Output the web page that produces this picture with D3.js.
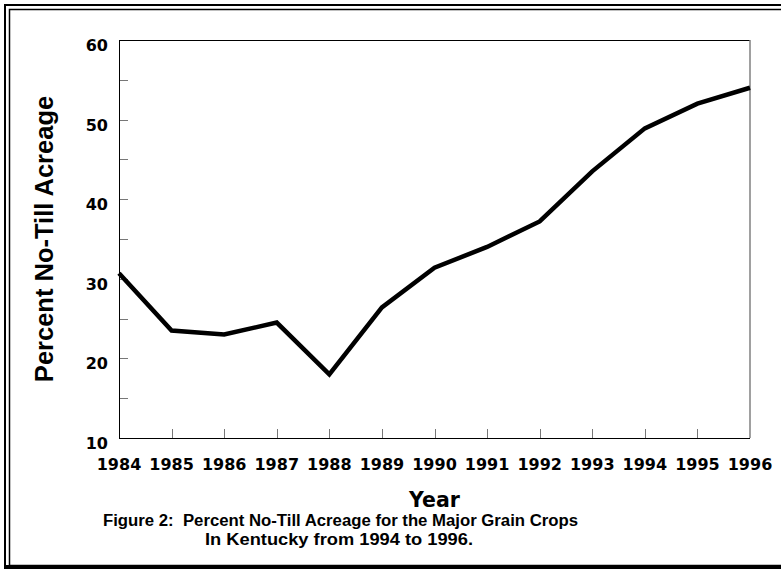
<!DOCTYPE html>
<html>
<head>
<meta charset="utf-8">
<script src="https://cdn.jsdelivr.net/npm/d3@7"></script>
<style>
  body { margin: 0; background: #fff; }
  svg { display: block; }
</style>
</head>
<body>
<div id="chart"></div>
<script>
// data
var years = [1984, 1985, 1986, 1987, 1988, 1989, 1990, 1991, 1992, 1993, 1994, 1995, 1996];
var percentNoTill = [30.7, 23.5, 23.0, 24.5, 18.0, 26.4, 31.4, 34.0, 37.2, 43.5, 48.9, 52.0, 54.0];
var yTicks = [10, 20, 30, 40, 50, 60];
var yMinorTicks = [15, 20, 25, 30, 35, 40, 45, 50, 55];
var captionLines = ["Figure 2:  Percent No-Till Acreage for the Major Grain Crops",
                    "In Kentucky from 1994 to 1996."];

var W = 781, H = 570;
var margin = { top: 40, right: 31, bottom: 132, left: 119 },
    width = W - margin.left - margin.right,
    height = H - margin.top - margin.bottom;

var svg = d3.select("#chart")
  .append("svg")
  .attr("width", W)
  .attr("height", H);

// double frame round the figure
svg.append("rect")
  .attr("x", 5).attr("y", 5)
  .attr("width", W + 20).attr("height", 562)
  .attr("fill", "none").attr("stroke", "#000").attr("stroke-width", 2);
svg.append("rect")
  .attr("x", 9.5).attr("y", 9.5)
  .attr("width", W + 20).attr("height", 556)
  .attr("fill", "none").attr("stroke", "#000").attr("stroke-width", 1.5);
svg.append("line")
  .attr("x1", 4).attr("x2", W).attr("y1", 567).attr("y2", 567)
  .attr("stroke", "#000").attr("stroke-width", 4);

var g = svg.append("g")
  .attr("transform", "translate(" + margin.left + "," + margin.top + ")");

var x = d3.scaleLinear()
  .domain([1984, 1996])
  .range([0, width]);

var y = d3.scaleLinear()
  .domain([10, 60])
  .range([height, 0]);

// frame of the plot area
g.append("line").attr("x1", 0).attr("x2", width).attr("y1", 0.5).attr("y2", 0.5)
  .attr("stroke", "#000").attr("stroke-width", 1);
g.append("line").attr("x1", width).attr("x2", width).attr("y1", 0).attr("y2", height)
  .attr("stroke", "#808080").attr("stroke-width", 1.5);

// inward ticks
g.selectAll(".ytick")
  .data(yMinorTicks)
  .enter().append("line")
  .attr("class", "ytick")
  .attr("x1", 0).attr("x2", 9)
  .attr("y1", function(d) { return Math.round(y(d)) + 0.5; })
  .attr("y2", function(d) { return Math.round(y(d)) + 0.5; })
  .attr("stroke", "#777").attr("stroke-width", 1);

g.selectAll(".xtick")
  .data(years.slice(1, -1))
  .enter().append("line")
  .attr("class", "xtick")
  .attr("x1", function(d) { return Math.round(x(d)) + 0.5; })
  .attr("x2", function(d) { return Math.round(x(d)) + 0.5; })
  .attr("y1", height).attr("y2", height - 9)
  .attr("stroke", "#777").attr("stroke-width", 1);

g.append("line").attr("x1", 0.5).attr("x2", 0.5).attr("y1", 0).attr("y2", height)
  .attr("stroke", "#000").attr("stroke-width", 1);
g.append("line").attr("x1", 0).attr("x2", width).attr("y1", height + 0.5).attr("y2", height + 0.5)
  .attr("stroke", "#000").attr("stroke-width", 1);

// tick labels
g.selectAll(".ylab")
  .data(yTicks)
  .enter().append("text")
  .attr("class", "ylab")
  .attr("x", -11)
  .attr("y", function(d) { return y(d) + 11; })
  .attr("text-anchor", "end")
  .attr("font-family", "'DejaVu Sans', sans-serif")
  .attr("font-weight", "bold")
  .attr("font-size", "16px")
  .text(function(d) { return d; });

g.selectAll(".xlab")
  .data(years)
  .enter().append("text")
  .attr("class", "xlab")
  .attr("x", function(d) { return x(d); })
  .attr("y", height + 32)
  .attr("text-anchor", "middle")
  .attr("font-family", "'DejaVu Sans', sans-serif")
  .attr("font-weight", "bold")
  .attr("font-size", "16px")
  .text(function(d) { return d; });

// the series
g.append("path")
  .datum(years.map(function(d, i) { return { year: d, value: percentNoTill[i] }; }))
  .attr("d", d3.line()
    .x(function(d) { return x(d.year); })
    .y(function(d) { return y(d.value); }))
  .attr("fill", "none")
  .attr("stroke", "#000")
  .attr("stroke-width", 4.5)
  .attr("stroke-linejoin", "miter");

// axis titles
g.append("text")
  .attr("x", width / 2)
  .attr("y", height + 69)
  .attr("text-anchor", "middle")
  .attr("font-family", "'DejaVu Sans', sans-serif")
  .attr("font-weight", "bold")
  .attr("font-size", "20.5px")
  .text("Year");

svg.append("text")
  .attr("transform", "translate(53," + (margin.top + height / 2) + ") rotate(-90)")
  .attr("text-anchor", "middle")
  .attr("font-family", "'Liberation Sans', Arial, sans-serif")
  .attr("font-weight", "bold")
  .attr("font-size", "25.5px")
  .text("Percent No-Till Acreage");

// caption
svg.append("text")
  .attr("x", 103)
  .attr("y", 526)
  .attr("font-family", "'Liberation Sans', Arial, sans-serif")
  .attr("font-weight", "bold")
  .attr("font-size", "16px")
  .attr("textLength", 475)
  .attr("lengthAdjust", "spacingAndGlyphs")
  .style("white-space", "pre")
  .text(captionLines[0]);

svg.append("text")
  .attr("x", 205)
  .attr("y", 544.5)
  .attr("font-family", "'Liberation Sans', Arial, sans-serif")
  .attr("font-weight", "bold")
  .attr("font-size", "16px")
  .attr("textLength", 268)
  .attr("lengthAdjust", "spacingAndGlyphs")
  .text(captionLines[1]);
</script>
</body>
</html>
